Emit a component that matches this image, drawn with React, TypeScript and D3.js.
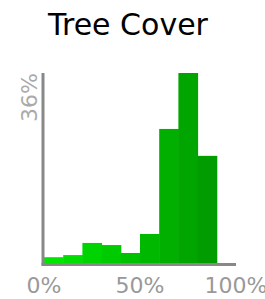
import * as d3 from 'd3'

// histogram of tree cover, 10% bins
const bins = ['0-10', '10-20', '20-30', '30-40', '40-50', '50-60', '60-70', '70-80', '80-90', '90-100']
const shares = [1.1, 1.5, 3.8, 3.4, 1.9, 5.5, 25.4, 36, 20.3, 0]
const xTicks = [0, 50, 100]
const yMax = 36

export default function App() {
  const width = 265
  const height = 299
  const left = 44
  const right = 236
  const bottom = 263
  const top = 73

  const x = d3.scaleLinear().domain([0, 100]).range([left, right])
  const y = d3.scaleLinear().domain([0, yMax]).range([bottom, top])
  const color = d3.scaleLinear<string>()
    .domain([0, bins.length - 2])
    .range(['#00e600', '#009c00'])

  const font = 'DejaVu Sans, sans-serif'

  return (
    <svg width={width} height={height}
      style={{ position: 'absolute', left: 0, top: 0, display: 'block' }}>
      <text x={128} y={35} textAnchor="middle" fontFamily={font} fontSize={30} fill="#000">
        Tree Cover
      </text>
      {shares.map((v, i) => (
        <rect key={bins[i]}
          x={x(i * 10)}
          width={x(10) - x(0) + 0.5}
          y={y(v)}
          height={bottom - y(v)}
          fill={color(i)} />
      ))}
      <line x1={43} x2={43} y1={top} y2={265.5} stroke="#888" strokeWidth={3} />
      <line x1={41.5} x2={right} y1={264.5} y2={264.5} stroke="#888" strokeWidth={3} />
      {xTicks.map(t => (
        <text key={t} x={x(t)} y={293} textAnchor="middle" fontFamily={font} fontSize={22} fill="#999">
          {t}%
        </text>
      ))}
      <text transform={`translate(37, ${y(yMax)}) rotate(-90)`} textAnchor="end"
        fontFamily={font} fontSize={22} fill="#aaa">
        {yMax}%
      </text>
    </svg>
  )
}
